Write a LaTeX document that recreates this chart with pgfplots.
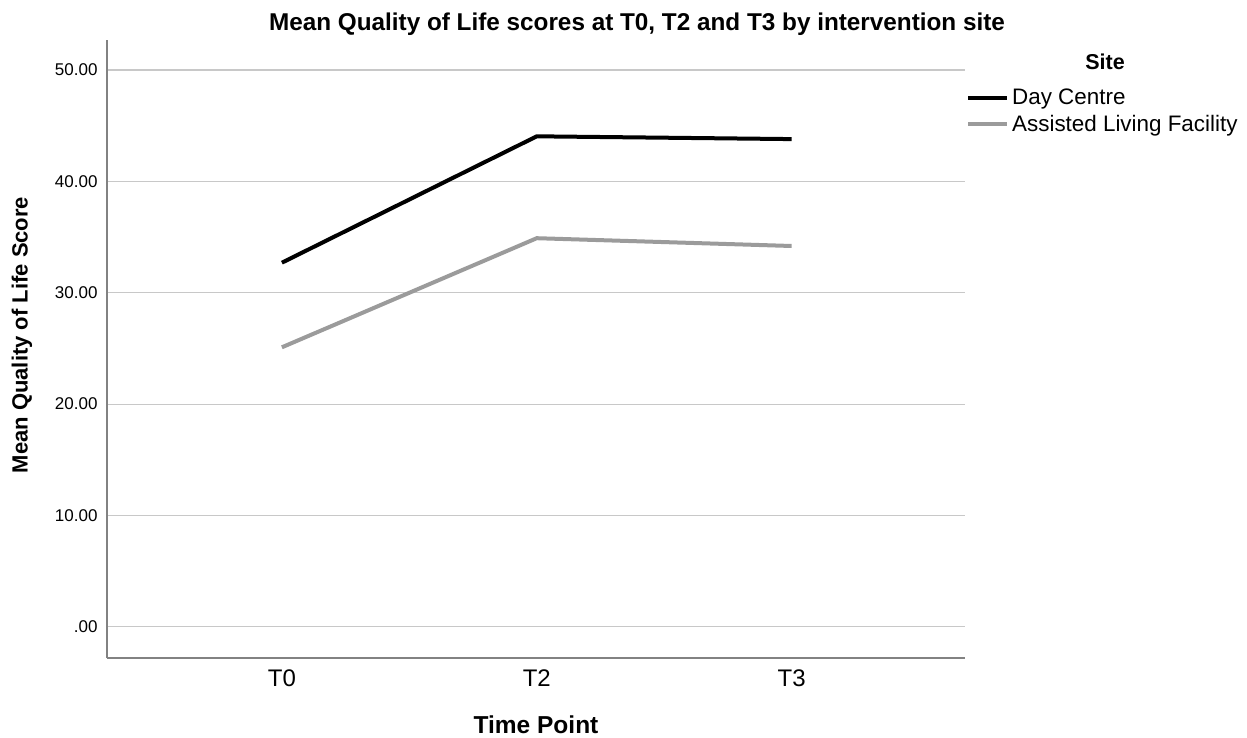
\documentclass[border=0pt]{standalone}
\usepackage{pgfplots}
\pgfplotsset{compat=1.18}
\usepackage{fontspec}
\setmainfont{Liberation Sans}
\definecolor{gridc}{RGB}{200,200,200}
\definecolor{axc}{RGB}{130,130,130}
\definecolor{alf}{RGB}{155,155,155}
\begin{document}
\begin{tikzpicture}
\useasboundingbox (0,0) rectangle (1247bp,738bp);
\begin{axis}[
  at={(107bp,80bp)}, anchor=south west,
  scale only axis, width=858bp, height=618bp,
  xmin=-0.686, xmax=2.68, ymin=-2.8, ymax=52.7,
  axis x line*=bottom, axis y line*=left,
  axis line style={axc, line width=1.3bp},
  xtick={0,1,2}, xticklabels={T0,T2,T3},
  ytick={0,10,20,30,40,50},
  yticklabels={.00,10.00,20.00,30.00,40.00,50.00},
  major tick length=0pt,
  ymajorgrids, grid style={gridc, line width=1.2bp},
  /pgf/number format/assume math mode=true,
  yticklabel style={font=\fontsize{17bp}{20bp}\selectfont, xshift=-6bp},
  xticklabel style={font=\fontsize{24bp}{27bp}\selectfont, yshift=-8bp},
  legend style={draw=none, fill=none, at={(1,1)}, anchor=north west,
    xshift=1bp, yshift=-48bp, inner sep=0pt, row sep=6.5bp,
    font=\fontsize{22.4bp}{26bp}\selectfont,
    nodes={inner xsep=3bp, inner ysep=1bp}},
  legend cell align=left,
  legend image code/.code={\draw[#1, line width=4bp] (0bp,0bp) -- (39bp,0bp);},
]
\addplot[black, line width=4bp] coordinates {(0,32.7) (1,44.05) (2,43.8)};
\addlegendentry{Day Centre}
\addplot[alf, line width=4bp] coordinates {(0,25.1) (1,34.9) (2,34.2)};
\addlegendentry{Assisted Living Facility}
\end{axis}
\node[font=\bfseries\fontsize{24.3bp}{27bp}\selectfont] at (637bp,714bp) {Mean Quality of Life scores at T0, T2 and T3 by intervention site};
\node[font=\bfseries\fontsize{22bp}{26bp}\selectfont, rotate=90] at (22bp,403bp) {Mean Quality of Life Score};
\node[font=\bfseries\fontsize{24.5bp}{27bp}\selectfont] at (536bp,13bp) {Time Point};
\node[font=\bfseries\fontsize{21.5bp}{24bp}\selectfont] at (1105bp,676bp) {Site};
\end{tikzpicture}
\end{document}
